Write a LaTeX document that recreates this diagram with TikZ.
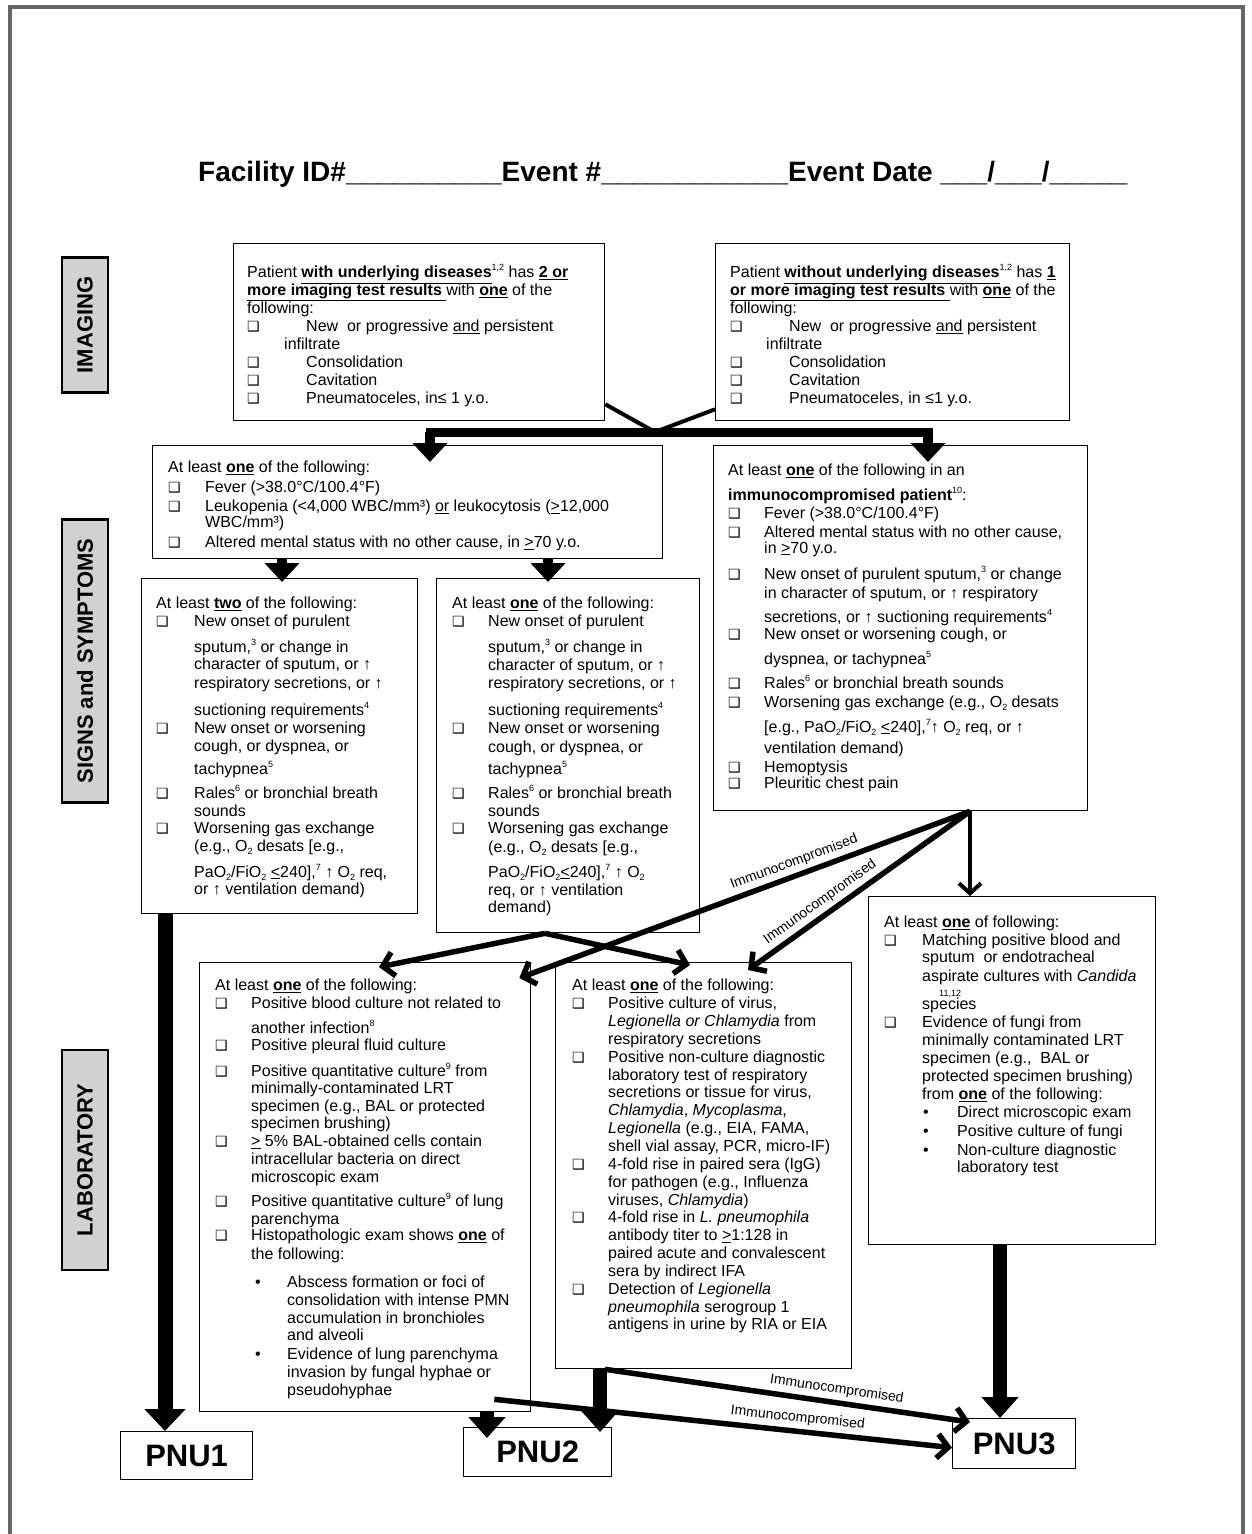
\documentclass[tikz,border=0pt]{standalone}
\usepackage{fontspec}
\setmainfont{Liberation Sans}
\newfontfamily\djv{DejaVu Sans}
\usetikzlibrary{arrows.meta,calc}
\newcommand\cbsym{{\djv\fontsize{14}{14}\selectfont ❑}}
\newcommand\cb[1]{\makebox[#1pt][l]{\cbsym}}
\newcommand\ind[1]{\hspace*{#1pt}}
\newcommand\ubf[1]{\underline{\textbf{#1}}}
\newcommand\sups[1]{\raisebox{7pt}{\fontsize{9}{9}\selectfont #1}}
\newcommand\subs[1]{\raisebox{-3pt}{\fontsize{9}{9}\selectfont #1}}
\newcommand\blt[2]{\hspace*{#1pt}\makebox[#2pt][l]{•}}
\begin{document}
\begin{tikzpicture}[x=1pt,y=-1pt,
  box/.style={draw, line width=1.3pt, anchor=north west, inner sep=0pt, fill=white},
  txt/.style={anchor=north west, align=left, inner sep=0pt, font=\fontsize{16}{18}\selectfont},
  side/.style={draw, line width=2.5pt, fill=black!18, font=\bfseries\fontsize{22}{22}\selectfont, rotate=90, inner sep=0pt},
  pnu/.style={draw, line width=1.3pt, anchor=north west, inner sep=0pt, font=\bfseries\fontsize{31}{31}\selectfont},
  blk/.style={line width=10pt, -{Triangle[width=34pt,length=19pt]}},
  fat/.style={line width=15pt, -{Triangle[width=40pt,length=22pt]}},
  fatb/.style={line width=14pt, -{Triangle[width=36pt,length=21pt]}},
  thn/.style={line width=5.5pt, -{Straight Barb[length=11pt,width=24pt]}},
  thnb/.style={line width=4pt, -{Straight Barb[length=10pt,width=22pt]}},
  lbl/.style={font=\fontsize{14}{14}\selectfont, inner sep=1pt}]
\useasboundingbox (0,0) rectangle (1251,1534);
\draw[line width=4pt, black!60] (10,1540) -- (10,7) -- (1243,7) -- (1243,1540);

\node[anchor=base west, inner sep=0pt, font=\bfseries\fontsize{28}{30}\selectfont] (hdr) at (198,181)
  {Facility ID\#\_\_\_\_\_\_\_\_\_\_Event \#\_\_\_\_\_\_\_\_\_\_\_\_Event Date \_\_\_/\_\_\_/\_\_\_\_\_};

\node[side, minimum width=135pt, minimum height=46pt] (simg) at (85,325) {IMAGING};
\node[side, minimum width=283pt, minimum height=46pt] (ssym) at (85,661) {SIGNS and SYMPTOMS};
\node[side, minimum width=220pt, minimum height=46pt] (slab) at (85,1160) {LABORATORY};

\node[box, minimum width=371pt, minimum height=177pt] (A) at (233,243) {};
\node[box, minimum width=354pt, minimum height=177pt] (B) at (715,243) {};
\node[box, minimum width=510pt, minimum height=113pt] (C) at (152,445) {};
\node[box, minimum width=374pt, minimum height=365pt] (D) at (713,445) {};
\node[box, minimum width=276pt, minimum height=335pt] (E) at (141,578) {};
\node[box, minimum width=263pt, minimum height=354pt] (F) at (436,578) {};
\node[box, minimum width=331pt, minimum height=449pt] (G) at (199,962) {};
\node[box, minimum width=296pt, minimum height=406pt] (H) at (555,962) {};
\node[box, minimum width=287pt, minimum height=348pt] (I) at (868,896) {};
\node[pnu, minimum width=132pt, minimum height=48pt] (P1) at (120,1431) {PNU1};
\node[pnu, minimum width=148pt, minimum height=49pt] (P2) at (463,1427) {PNU2};
\node[pnu, minimum width=123pt, minimum height=50pt] (P3) at (952,1418) {PNU3};

% imaging connectors
\coordinate (J) at (655,432);
\coordinate (Jl) at (430,432);
\coordinate (Jr) at (928,432);
\draw[line width=4pt] ($(A.south east)+(0,-17)$) -- (J);
\draw[line width=4pt] ($(B.south west)+(0,-12)$) -- (J);
\draw[line width=9pt, line cap=rect] (Jl) -- (Jr);
\draw[blk, shorten >=-17pt] (Jl) -- (Jl |- C.north);
\draw[blk, shorten >=-17pt] (Jr) -- (Jr |- D.north);

% signs connectors
\draw[blk, shorten >=-4pt] ($(C.south west)+(130,0)$) coordinate (c1) -- (c1 |- E.north);
\draw[blk, shorten >=-4pt] ($(C.south west)+(396,0)$) coordinate (c2) -- (c2 |- F.north);
\draw[fat] ($(E.south west)+(24,0)$) coordinate (e1) -- (e1 |- P1.north);

\coordinate (f0) at ($(F.south west)+(109,0)$);
\draw[thn] (f0) -- ($(G.north west)+(180,5)$);
\draw[thn] (f0) -- ($(H.north west)+(135,3)$);

\coordinate (d0) at ($(D.south west)+(257,0)$);
\draw[thn] (d0) -- node[lbl, sloped, above=3pt, pos=0.38]{Immunocompromised} ($(G.north east)+(-12,16)$);
\draw[thn] (d0) -- node[lbl, sloped, above=3pt, pos=0.64]{Immunocompromised} ($(H.north west)+(193,8)$);
\draw[thnb] (d0) -- (d0 |- I.north);

% lab connectors
\draw[fatb, shorten >=-11pt] ($(G.south west)+(288,0)$) coordinate (g1) -- (g1 |- P2.north);
\draw[fatb, shorten >=-5pt] ($(H.south west)+(45,0)$) coordinate (h1) -- (h1 |- P2.north);
\draw[fatb] ($(I.south west)+(132,0)$) coordinate (i1) -- (i1 |- P3.north);
\coordinate (h0) at ($(H.south west)+(50,0)$);
\draw[thn] (h0) -- node[lbl, sloped, above=3pt, pos=0.63]{Immunocompromised} ($(P3.north west)+(18,4)$);
\coordinate (g0) at ($(G.south east)+(-37,-13)$);
\draw[thn] (g0) -- node[lbl, sloped, above=3pt, pos=0.66]{Immunocompromised} ($(P3.west)+(0,4)$);

% texts
\node[txt, font=\fontsize{16}{17.9}\selectfont] (tA) at (247,264.5) {%
Patient \ubf{with underlying diseases}\sups{1,2} has \ubf{2 or}\\
\ubf{more imaging test results }with \ubf{one} of the\\
following:\\
\cb{59}New~ or progressive \underline{and} persistent\\
\ind{37}infiltrate\\
\cb{59}Consolidation\\
\cb{59}Cavitation\\
\cb{59}Pneumatoceles, in≤ 1 y.o.};

\node[txt, font=\fontsize{16}{17.9}\selectfont] (tB) at (730,264.5) {%
Patient \ubf{without underlying diseases}\sups{1,2} has \ubf{1}\\
\ubf{or more imaging test results }with \ubf{one} of the\\
following:\\
\cb{59}New~ or progressive \underline{and} persistent\\
\ind{36}infiltrate\\
\cb{59}Consolidation\\
\cb{59}Cavitation\\
\cb{59}Pneumatoceles, in ≤1 y.o.};

\node[txt] (tC) at (168,460.5) {%
At least \ubf{one} of the following:\\[2pt]
\cb{37}Fever (>38.0°C/100.4°F)\\[1pt]
\cb{37}Leukopenia (<4,000 WBC/mm³) \underline{or} leukocytosis (\underline{>}12,000\\[-2pt]
\ind{37}WBC/mm³)\\[2pt]
\cb{37}Altered mental status with no other cause, in \underline{>}70 y.o.};

\node[txt] (tD) at (728,463.4) {%
At least \ubf{one} of the following in an\\[7pt]
\textbf{immunocompromised patient}\sups{10}:\\
\cb{36}Fever (>38.0°C/100.4°F)\\[1pt]
\cb{36}Altered mental status with no other cause,\\[-2pt]
\ind{36}in \underline{>}70 y.o.\\[8pt]
\cb{36}New onset of purulent sputum,\sups{3} or change\\[1pt]
\ind{36}in character of sputum, or ↑ respiratory\\[6pt]
\ind{36}secretions, or ↑ suctioning requirements\sups{4}\\[-1pt]
\cb{36}New onset or worsening cough, or\\[7pt]
\ind{36}dyspnea, or tachypnea\sups{5}\\[6pt]
\cb{36}Rales\sups{6} or bronchial breath sounds\\[1pt]
\cb{36}Worsening gas exchange (e.g., O\subs{2} desats\\[7pt]
\ind{36}[e.g., PaO\subs{2}/FiO\subs{2} \underline{<}240],\sups{7}↑ O\subs{2} req, or ↑\\[3pt]
\ind{36}ventilation demand)\\[1pt]
\cb{36}Hemoptysis\\[-2pt]
\cb{36}Pleuritic chest pain};

\node[txt] (tE) at (156,596.4) {%
At least \ubf{two} of the following:\\
\cb{38}New onset of purulent\\[8pt]
\ind{38}sputum,\sups{3} or change in\\[-1pt]
\ind{38}character of sputum, or ↑\\[1pt]
\ind{38}respiratory secretions, or ↑\\[9pt]
\ind{38}suctioning requirements\sups{4}\\
\cb{38}New onset or worsening\\
\ind{38}cough, or dyspnea, or\\[5pt]
\ind{38}tachypnea\sups{5}\\[6pt]
\cb{38}Rales\sups{6} or bronchial breath\\
\ind{38}sounds\\[-1pt]
\cb{38}Worsening gas exchange\\
\ind{38}(e.g., O\subs{2} desats [e.g.,\\[8pt]
\ind{38}PaO\subs{2}/FiO\subs{2} \underline{<}240],\sups{7} ↑ O\subs{2} req,\\[-1pt]
\ind{38}or ↑ ventilation demand)};

\node[txt] (tF) at (452,596.4) {%
At least \ubf{one} of the following:\\
\cb{36}New onset of purulent\\[8pt]
\ind{36}sputum,\sups{3} or change in\\
\ind{36}character of sputum, or ↑\\
\ind{36}respiratory secretions, or ↑\\[9pt]
\ind{36}suctioning requirements\sups{4}\\
\cb{36}New onset or worsening\\[1pt]
\ind{36}cough, or dyspnea, or\\[4pt]
\ind{36}tachypnea\sups{5}\\[6pt]
\cb{36}Rales\sups{6} or bronchial breath\\
\ind{36}sounds\\[-1pt]
\cb{36}Worsening gas exchange\\[1pt]
\ind{36}(e.g., O\subs{2} desats [e.g.,\\[7pt]
\ind{36}PaO\subs{2}/FiO\subs{2}\underline{<}240],\sups{7} ↑ O\subs{2}\\
\ind{36}req, or ↑ ventilation\\[-1pt]
\ind{36}demand)};

\node[txt] (tG) at (215,979) {%
At least \ubf{one} of the following:\\
\cb{36}Positive blood culture not related to\\[7pt]
\ind{36}another infection\sups{8}\\[-1pt]
\cb{36}Positive pleural fluid culture\\[8pt]
\cb{36}Positive quantitative culture\sups{9} from\\[-1pt]
\ind{36}minimally-contaminated LRT\\
\ind{36}specimen (e.g., BAL or protected\\[-1pt]
\ind{36}specimen brushing)\\
\cb{36}\underline{>} 5\% BAL-obtained cells contain\\
\ind{36}intracellular bacteria on direct\\
\ind{36}microscopic exam\\[6pt]
\cb{36}Positive quantitative culture\sups{9} of lung\\
\ind{36}parenchyma\\[-2pt]
\cb{36}Histopathologic exam shows \ubf{one} of\\[1pt]
\ind{36}the following:\\[10pt]
\blt{40}{32}Abscess formation or foci of\\
\ind{72}consolidation with intense PMN\\
\ind{72}accumulation in bronchioles\\[-1pt]
\ind{72}and alveoli\\[1pt]
\blt{40}{32}Evidence of lung parenchyma\\
\ind{72}invasion by fungal hyphae or\\
\ind{72}pseudohyphae};

\node[txt, font=\fontsize{16}{17.85}\selectfont] (tH) at (572,979) {%
At least \ubf{one} of the following:\\
\cb{36}Positive culture of virus,\\
\ind{36}\textit{Legionella or Chlamydia} from\\
\ind{36}respiratory secretions\\
\cb{36}Positive non-culture diagnostic\\
\ind{36}laboratory test of respiratory\\
\ind{36}secretions or tissue for virus,\\
\ind{36}\textit{Chlamydia}, \textit{Mycoplasma},\\
\ind{36}\textit{Legionella} (e.g., EIA, FAMA,\\
\ind{36}shell vial assay, PCR, micro-IF)\\
\cb{36}4-fold rise in paired sera (IgG)\\
\ind{36}for pathogen (e.g., Influenza\\
\ind{36}viruses, \textit{Chlamydia})\\
\cb{36}4-fold rise in \textit{L. pneumophila}\\
\ind{36}antibody titer to \underline{>}1:128 in\\
\ind{36}paired acute and convalescent\\
\ind{36}sera by indirect IFA\\
\cb{36}Detection of \textit{Legionella}\\
\ind{36}\textit{pneumophila} serogroup 1\\
\ind{36}antigens in urine by RIA or EIA};

\node[txt] (tI) at (884,915.4) {%
At least \ubf{one} of following:\\
\cb{38}Matching positive blood and\\[-1pt]
\ind{38}sputum~ or endotracheal\\[1pt]
\ind{38}aspirate cultures with \textit{Candida}\\[5pt]
\ind{38}\makebox[0pt][l]{\hspace{17pt}\raisebox{12.5pt}{\fontsize{9}{9}\selectfont 11,12}}species\\
\cb{38}Evidence of fungi from\\
\ind{38}minimally contaminated LRT\\
\ind{38}specimen (e.g.,~ BAL or\\
\ind{38}protected specimen brushing)\\
\ind{38}from \ubf{one} of the following:\\
\blt{39}{34}Direct microscopic exam\\[1pt]
\blt{39}{34}Positive culture of fungi\\[1pt]
\blt{39}{34}Non-culture diagnostic\\[-1pt]
\ind{73}laboratory test};
\end{tikzpicture}
\end{document}
